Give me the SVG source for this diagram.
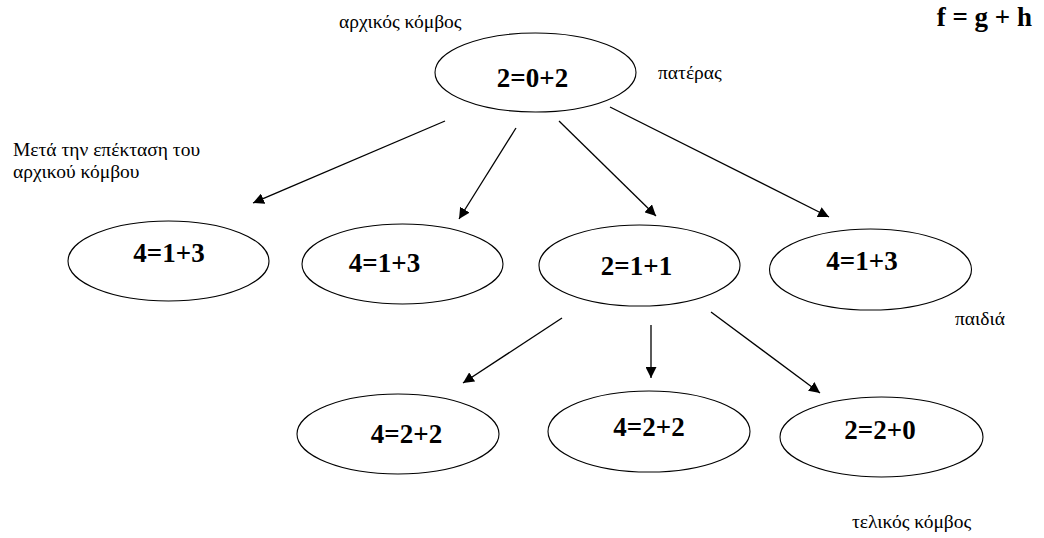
<svg xmlns="http://www.w3.org/2000/svg" width="1044" height="538" viewBox="0 0 1044 538">
<style>
.node ellipse{fill:#fff;stroke:#000;stroke-width:1.1}
#connectors line{stroke:#000;stroke-width:1.3;marker-end:url(#ah)}
</style>
<defs>
<marker id="ah" viewBox="0 0 10 10" refX="10" refY="5" markerWidth="11" markerHeight="11" markerUnits="userSpaceOnUse" orient="auto">
<path d="M0,0 L10,5 L0,10 z" fill="#000"/>
</marker>
</defs>
<rect width="1044" height="538" fill="#fff"/>
<g id="connectors">
<line x1="445" y1="121" x2="253" y2="203"/>
<line x1="516" y1="128" x2="459" y2="219"/>
<line x1="559" y1="121" x2="656" y2="216"/>
<line x1="610" y1="107" x2="829" y2="217"/>
<line x1="562" y1="318" x2="463" y2="383"/>
<line x1="651" y1="325" x2="651" y2="378"/>
<line x1="711" y1="312" x2="820" y2="393"/>
</g>
<g font-family="Liberation Serif" font-weight="bold" font-size="27" text-anchor="middle" fill="#000">
<g id="root" class="node"><ellipse cx="535.5" cy="72.5" rx="100.5" ry="39.5"/><text x="532.5" y="87">2=0+2</text></g>
<g id="n1" class="node"><ellipse cx="168.5" cy="261" rx="100.5" ry="40"/><text x="169" y="262">4=1+3</text></g>
<g id="n2" class="node"><ellipse cx="402.5" cy="264" rx="100.5" ry="40"/><text x="384.5" y="272">4=1+3</text></g>
<g id="n3" class="node"><ellipse cx="639.5" cy="265.5" rx="100.5" ry="40.5"/><text x="636.5" y="275">2=1+1</text></g>
<g id="n4" class="node"><ellipse cx="870.5" cy="269.5" rx="101" ry="40.5"/><text x="862" y="270">4=1+3</text></g>
<g id="n5" class="node"><ellipse cx="398" cy="434" rx="101" ry="40"/><text x="406.5" y="443">4=2+2</text></g>
<g id="n6" class="node"><ellipse cx="649" cy="431.5" rx="101" ry="40.5"/><text x="649" y="436">4=2+2</text></g>
<g id="n7" class="node"><ellipse cx="881.5" cy="437" rx="101.5" ry="40"/><text x="880" y="439">2=2+0</text></g>
</g>
<g id="labels" font-family="Liberation Serif" font-size="19.5" fill="#000">
<text x="339" y="28">αρχικός κόμβος</text>
<text x="658" y="79">πατέρας</text>
<text x="13" y="156">Μετά την επέκταση του</text>
<text x="13" y="178">αρχικού κόμβου</text>
<text x="955" y="325">παιδιά</text>
<text x="852" y="528">τελικός κόμβος</text>
<text x="1032" y="26" text-anchor="end" font-weight="bold" font-size="27">f = g + h</text>
</g>
</svg>
